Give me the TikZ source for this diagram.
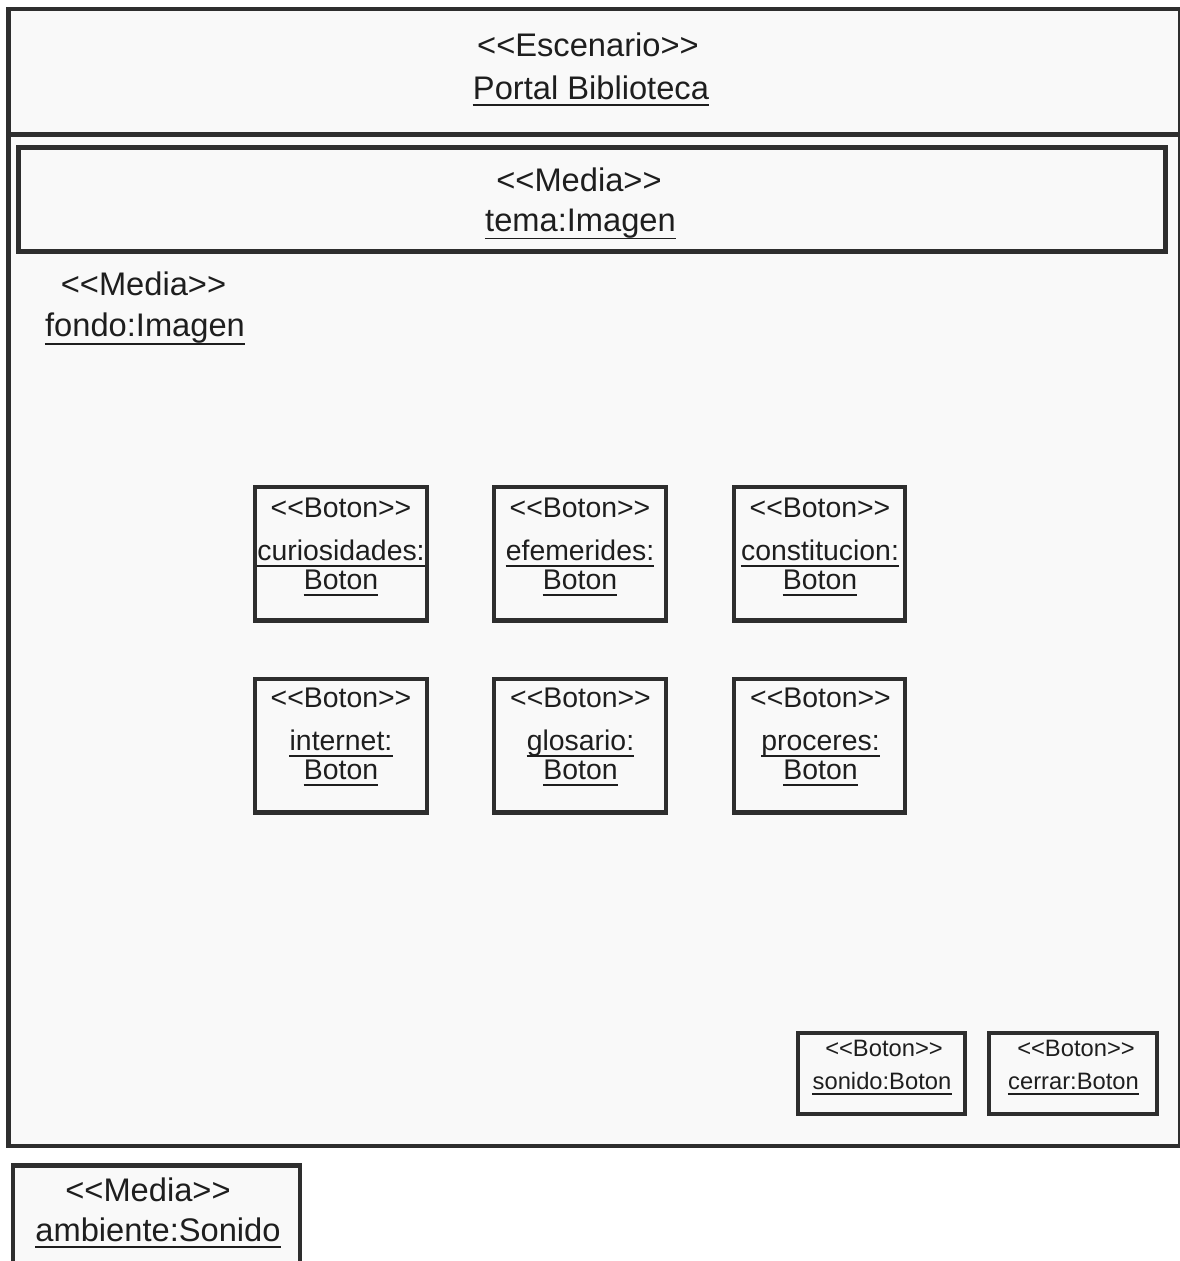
\documentclass[tikz,border=0pt]{standalone}
\usepackage{fontspec}
\newfontfamily\lsans{Liberation Sans}
\definecolor{ink}{HTML}{2E2E2E}
\definecolor{paper}{HTML}{F9F9F9}
\definecolor{txt}{HTML}{1E1E1E}
% underline a text node: node name, drop below its baseline
\newcommand\ulnode[2]{\draw[ulline] ([yshift=-#2]#1.base west) -- ([yshift=-#2]#1.base east);}
\begin{document}
\begin{tikzpicture}[x=0.75pt,y=-0.75pt,
  frame/.style={draw=ink,line width=3.2pt,fill=paper},
  lbl/.style={text=txt,inner sep=0pt,anchor=base},
  big/.style={lbl,font=\lsans\fontsize{24.5}{28}\selectfont},
  mid/.style={lbl,font=\lsans\fontsize{21.3}{25}\selectfont},
  small/.style={lbl,font=\lsans\fontsize{17.8}{20}\selectfont},
  btnbox/.style={frame,inner sep=0pt,minimum width=128.6pt,minimum height=100.1pt},
  smallbox/.style={frame,inner sep=0pt,minimum width=125.5pt,minimum height=60.75pt},
  ulline/.style={draw=txt,line width=1.4pt},
]
\useasboundingbox[fill=white] (0,0) rectangle (1179,1261);

% scenario frame: header and body
\draw[frame] (8.5,9) rectangle (1180,134.5);
\draw[frame] (8.5,134.5) rectangle (1180,1146);
\node[big] (esc) at (588,56) {<<Escenario>>};
\node[big] (portal) at (591,99) {Portal Biblioteca};
\ulnode{portal}{4.8pt}

% theme image banner
\draw[frame] (18.5,147.5) rectangle (1165.5,251.5);
\node[big] (temast) at (579,191) {<<Media>>};
\node[big] (tema) at (580.5,231.5) {tema:Imagen};
\ulnode{tema}{5.2pt}

% background image label
\node[big] (fondost) at (143.5,295) {<<Media>>};
\node[big] (fondo) at (145,336) {fondo:Imagen};
\ulnode{fondo}{6pt}

% button grid
\node[btnbox] (b1) at (341,553.75) {};
\node[btnbox] (b2) at (580,553.75) {};
\node[btnbox] (b3) at (819.5,553.75) {};
\node[btnbox] (b4) at (341,745.75) {};
\node[btnbox] (b5) at (580,745.75) {};
\node[btnbox] (b6) at (819.5,745.75) {};

\foreach \cx/\nm/\k in {341/curiosidades:/1, 580/efemerides:/2, 820/constitucion:/3}{
  \node[mid] (st\k) at (\cx,517) {<<Boton>>};
  \node[mid] (nm\k) at (\cx,560) {\nm};
  \node[mid] (ty\k) at (\cx,589) {Boton};
  \ulnode{nm\k}{4.5pt}
  \ulnode{ty\k}{4.5pt}
}
\foreach \cx/\nm/\k in {341/internet:/4, 580.5/glosario:/5, 820.5/proceres:/6}{
  \node[mid] (st\k) at (\cx,707) {<<Boton>>};
  \node[mid] (nm\k) at (\cx,750) {\nm};
  \node[mid] (ty\k) at (\cx,779) {Boton};
  \ulnode{nm\k}{4.5pt}
  \ulnode{ty\k}{4.5pt}
}

% sound and close buttons
\node[smallbox] (bs) at (881.5,1073.5) {};
\node[smallbox] (bc) at (1073,1073.5) {};
\node[small] (sst) at (884,1056) {<<Boton>>};
\node[small] (snd) at (882,1089.5) {sonido:Boton};
\ulnode{snd}{3.4pt}
\node[small] (cst) at (1076,1056) {<<Boton>>};
\node[small] (crr) at (1073.5,1089.5) {cerrar:Boton};
\ulnode{crr}{3.4pt}

% ambient sound
\draw[frame] (13,1165.5) rectangle (299.7,1290);
\node[big] (ambst) at (148,1201) {<<Media>>};
\node[big] (amb) at (158,1241) {ambiente:Sonido};
\ulnode{amb}{4.8pt}
\end{tikzpicture}
\end{document}
